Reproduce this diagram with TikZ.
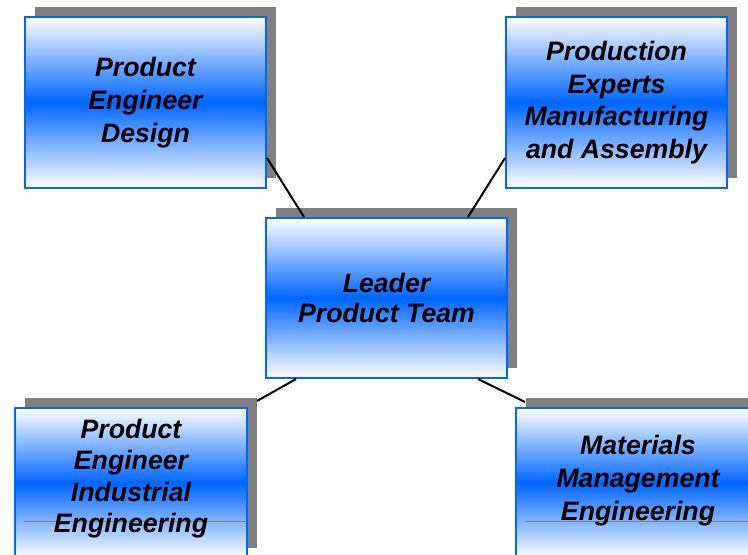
\documentclass[tikz,border=0pt]{standalone}
\usepackage{fontspec}
\setmainfont{Liberation Sans}
\usetikzlibrary{shadows,calc}
\definecolor{teamblue}{RGB}{0,102,255}
\definecolor{shadowgray}{RGB}{128,128,128}
\tikzset{every picture/.style={line width=0.75pt}}

\begin{document}
\begin{tikzpicture}[x=0.75pt,y=0.75pt,yscale=-1,xscale=1,
  teambox/.style={draw=teamblue, line width=1.5pt, top color=white, bottom color=white, middle color=teamblue,
    align=center, inner sep=0pt, font=\fontsize{20}{24.5}\selectfont\bfseries\itshape,
    general shadow={fill=shadowgray, shadow xshift=7.5pt, shadow yshift=7.5pt}},
  boxtext/.style={align=center, inner sep=0pt, font=\fontsize{20}{23.5}\selectfont\bfseries\itshape},
  link/.style={line width=1.5pt}]
%set diagram left start at 0, and has height of 554
\useasboundingbox (0,0) rectangle (748,554);
\clip (0,0) rectangle (748,554);

%Shape: Rectangle
\node [teambox, minimum width=180.75pt, minimum height=128.25pt] (design) at (145.5,102.5) {Product\\Engineer\\Design};
%Shape: Rectangle
\node [teambox, minimum width=165.75pt, minimum height=128.25pt] (production) at (616.5,102.5) {Production\\Experts\\Manufacturing\\and Assembly};
%Shape: Rectangle
\node [teambox, minimum width=180.75pt, minimum height=120pt, font=\fontsize{20}{22.5}\selectfont\bfseries\itshape] (leader) at (386.5,298) {Leader\\Product Team};
%Shape: Rectangle (cut by the lower edge)
\node [teambox, minimum width=174pt, minimum height=112.5pt] (industrial) at (131,483) {};
%Shape: Rectangle (cut by the lower edge)
\node [teambox, minimum width=183pt, minimum height=112.5pt] (materials) at (638,483) {};

%Straight Lines
\draw [shadowgray, line width=0.5pt] ($(industrial.north west)+(10,114)$) -- ($(industrial.north east)+(-1,114)$) ;
%Straight Lines
\draw [shadowgray, line width=0.5pt] ($(materials.north west)+(10,114)$) -- ($(materials.north east)+(-1,114)$) ;

% Text Node
\node [boxtext] (industrialtext) at (131,478.5) {Product\\Engineer\\Industrial\\Engineering};
% Text Node
\node [boxtext, font=\fontsize{20}{24.5}\selectfont\bfseries\itshape] (materialstext) at (638,480.5) {Materials\\Management\\Engineering};

%Straight Lines
\draw [link] ($(design.south east)+(0,-31)$) -- ($(leader.north west)+(39,0)$) ;
%Straight Lines
\draw [link] ($(leader.north east)+(-40,0)$) -- ($(production.south west)+(0,-31)$) ;
%Straight Lines
\draw [link] ($(leader.south west)+(31,0)$) -- ($(industrial.north east)+(9,-6)$) ;
%Straight Lines
\draw [link] ($(leader.south east)+(-30,0)$) -- ($(materials.north west)+(10,-5)$) ;

\end{tikzpicture}
\end{document}
